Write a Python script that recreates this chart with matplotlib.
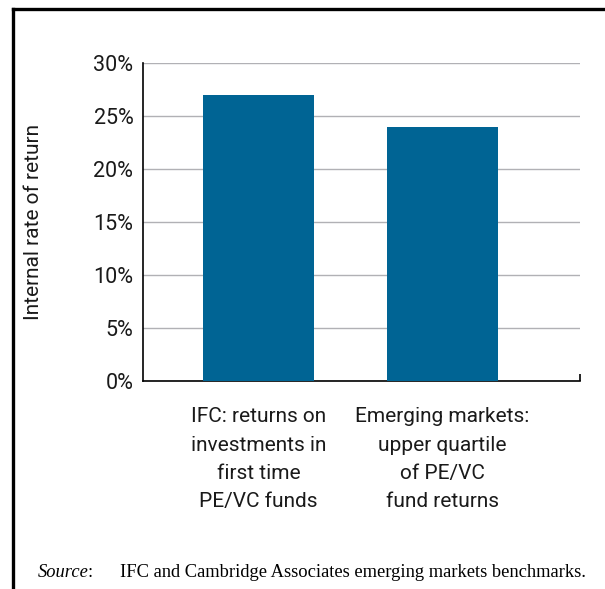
import matplotlib; matplotlib.use('Agg')
import matplotlib.pyplot as plt
from matplotlib.lines import Line2D
from matplotlib.ticker import FuncFormatter

categories = ["IFC: returns on\ninvestments in\nfirst time\nPE/VC funds",
              "Emerging markets:\nupper quartile\nof PE/VC\nfund returns"]
irr = [27, 24]
yticks = [0, 5, 10, 15, 20, 25, 30]

plt.rcParams['font.family'] = ['Roboto', 'DejaVu Sans']

fig = plt.figure(figsize=(6.05, 5.89), dpi=100)
ax = fig.add_axes([0.2364, 0.3531, 0.7223, 0.5399])

x = range(len(categories))
ax.bar(x, irr, width=0.6, color="#006494", zorder=3)
ax.set_xlim(-0.628, 1.747)
ax.set_ylim(0, 30)
ax.set_yticks(yticks)
ax.yaxis.set_major_formatter(FuncFormatter(lambda v, p: f"{v:.0f}%"))
ax.yaxis.grid(True, color="#b1b1b5", linewidth=1.0, zorder=0)
ax.set_axisbelow(True)

ax.set_xticks(list(x))
ax.set_xticklabels(categories, fontsize=15, linespacing=1.62, color="#1a1a1a")
ax.tick_params(axis='x', length=0, pad=19)
ax.tick_params(axis='y', length=0, pad=7, labelsize=15.5, labelcolor="#1a1a1a")
ax.set_xticks([ax.get_xlim()[1]], minor=True)
ax.tick_params(axis='x', which='minor', direction='in', length=5, width=1.2, color='black')

for s in ["top", "right"]:
    ax.spines[s].set_visible(False)
for s in ["left", "bottom"]:
    ax.spines[s].set_linewidth(1.2)
    ax.spines[s].set_color("black")

ax.set_ylabel("Internal rate of return", fontsize=15, color="#1a1a1a")
ax.yaxis.set_label_coords(-0.229, 0.5)

# frame on the left and top
fig.add_artist(Line2D([13 / 605, 13 / 605], [0, 1 - 9 / 589], transform=fig.transFigure, color="black", linewidth=2.4))
fig.add_artist(Line2D([13 / 605, 1], [1 - 9 / 589, 1 - 9 / 589], transform=fig.transFigure, color="black", linewidth=2.4))

src = fig.text(38 / 605, 1 - 577 / 589, "Source", fontsize=13.3, family="Liberation Serif",
               style="italic", va="baseline")
ax.annotate(":", xy=(1, 0), xycoords=src, xytext=(-1, 0), textcoords="offset points",
            fontsize=13.3, family="Liberation Serif", va="bottom", annotation_clip=False)
fig.text(120 / 605, 1 - 577 / 589, "IFC and Cambridge Associates emerging markets benchmarks.",
         fontsize=13.3, family="Liberation Serif", va="baseline")

plt.savefig("out.png", dpi=100)
